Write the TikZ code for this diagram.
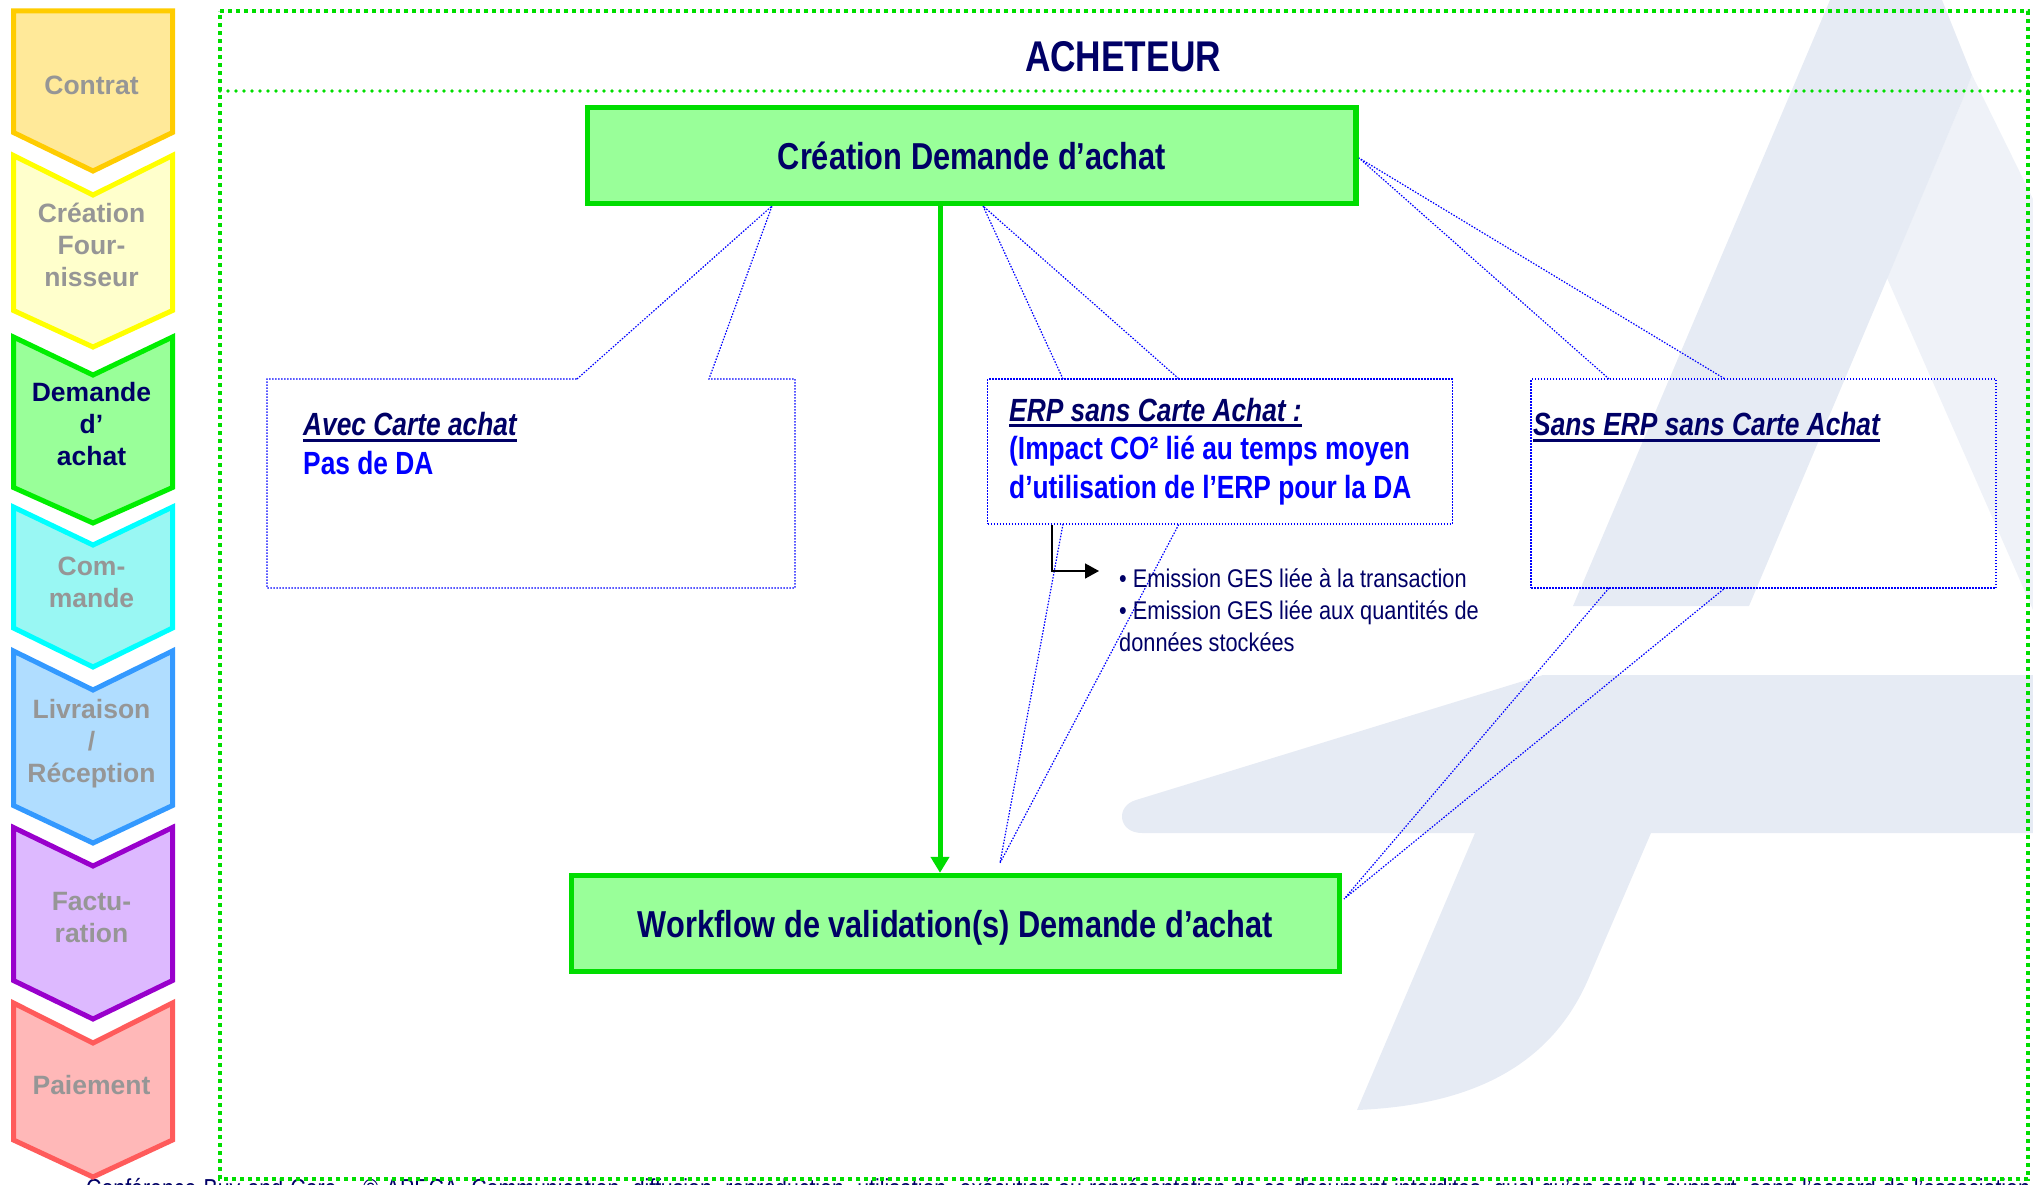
\documentclass[tikz,border=0pt]{standalone}
\usepackage{fontspec}
\usetikzlibrary{arrows.meta}
\setmainfont{Liberation Sans}
\newfontfamily\serre[FakeStretch=0.82]{Liberation Sans}
\newfontfamily\serrefin[FakeStretch=0.85]{Liberation Sans}
\newcommand{\souligne}[1]{\leavevmode\setbox0=\hbox{#1}\rlap{\rule[-6pt]{\wd0}{3pt}}\box0}
\definecolor{marine}{HTML}{000066}
\definecolor{bleuvif}{HTML}{0000FF}
\definecolor{gris}{HTML}{969696}
\definecolor{vertfort}{HTML}{00DD00}
\definecolor{vertpale}{HTML}{99FF99}
\definecolor{logo}{HTML}{E6EBF4}
\definecolor{logoclair}{HTML}{EFF2F8}
\definecolor{bordA}{HTML}{FFCC00}
\definecolor{fondA}{HTML}{FFE999}
\definecolor{bordB}{HTML}{FFFF00}
\definecolor{fondB}{HTML}{FFFFCC}
\definecolor{bordC}{HTML}{00EE00}
\definecolor{bordD}{HTML}{00FFFF}
\definecolor{fondD}{HTML}{99F7F3}
\definecolor{bordE}{HTML}{3399FF}
\definecolor{fondE}{HTML}{B0DDFF}
\definecolor{bordF}{HTML}{9900CC}
\definecolor{fondF}{HTML}{DDB9FF}
\definecolor{bordG}{HTML}{FF5B5B}
\definecolor{fondG}{HTML}{FFB8B8}
\tikzset{
  etape/.style 2 args={draw=#1, fill=#2, line width=5pt, miter limit=10},
  etapetexte/.style={align=center, inner sep=0pt, text=gris, font=\fontsize{26.5}{32}\selectfont\bfseries},
  cadre/.style={draw=vertfort, line width=4pt, dash pattern=on 4pt off 4pt},
  filet/.style={draw=vertfort, line width=3.6pt, line cap=round, dash pattern=on 0pt off 8pt},
  boite/.style={draw=vertfort, fill=vertpale, line width=5.3pt, text depth=0pt, text=marine, font=\serre\fontsize{37.5}{44}\selectfont\bfseries},
  appel/.style={draw=bleuvif, line width=1.2pt, dash pattern=on 1.5pt off 1.5pt},
  appeltexte/.style={align=left, inner sep=0pt, anchor=north west, text=bleuvif, font=\serre\fontsize{32.1}{38.5}\selectfont\bfseries},
  flux/.style={draw=vertfort, line width=5pt, -{Triangle[length=16pt,width=18pt]}},
  renvoi/.style={draw=black, line width=1.6pt, -{Triangle[length=14pt,width=15pt]}},
}
\begin{document}
\begin{tikzpicture}[x=1pt, y=-1pt]
\useasboundingbox (0,0) rectangle (2033,1185);
% logo
\fill[logoclair] (1972,75) -- (2033,199) -- (2033,610) -- (1887,278) -- (1963,99) -- cycle;
\fill[logo] (1830,0) -- (1942,0) -- (1972,75) -- (1963,99) -- (1749,606) -- (1573,606) -- cycle;
\fill[logo] (1136,800) -- (1543,675) -- (2033,675) -- (2033,833) -- (1142,833) .. controls (1118,833) and (1115,806) .. (1136,800) -- cycle;
\fill[logo] (1475,833) -- (1357,1110) .. controls (1480,1105) and (1555,1060) .. (1590,975) -- (1651,833) -- cycle;
% pied de page
\node[anchor=base west, inner sep=0pt, text=marine, font=\serre\fontsize{26}{30}\selectfont] (pied) at (86,1197)
  {\hbox to 1944pt{Conférence Buy and Care – © APECA. Communication, diffusion, reproduction, utilisation, exécution ou représentation de ce document interdites, quel qu’en soit le support, sans l’accord de l’association}};
% etapes
\draw[etape={bordA}{fondA}] (13.5,11) -- (172.5,11) -- (172.5,132.5) -- (93,171) -- (13.5,132.5) -- cycle;
\draw[etape={bordB}{fondB}] (13.5,155.5) -- (93,195) -- (172.5,155.5) -- (172.5,310.5) -- (93,347) -- (13.5,310.5) -- cycle;
\draw[etape={bordC}{vertpale}] (13.5,337) -- (93,375) -- (172.5,337) -- (172.5,487.5) -- (93,523) -- (13.5,487.5) -- cycle;
\draw[etape={bordD}{fondD}] (13.5,507) -- (93,545) -- (172.5,507) -- (172.5,628) -- (93,667) -- (13.5,628) -- cycle;
\draw[etape={bordE}{fondE}] (13.5,651) -- (93,690) -- (172.5,651) -- (172.5,805.5) -- (93,843) -- (13.5,805.5) -- cycle;
\draw[etape={bordF}{fondF}] (13.5,827.5) -- (93,866) -- (172.5,827.5) -- (172.5,980.5) -- (93,1019) -- (13.5,980.5) -- cycle;
\draw[etape={bordG}{fondG}] (13.5,1003) -- (93,1043) -- (172.5,1003) -- (172.5,1140) -- (93,1177) -- (13.5,1140) -- cycle;
\node[etapetexte] (contrat) at (91.5,85) {Contrat};
\node[etapetexte] (fournisseur) at (91.5,245) {Création\\Four-\\nisseur};
\node[etapetexte, text=marine] (demande) at (91.5,424) {Demande\\d’\\achat};
\node[etapetexte] (commande) at (91.5,582) {Com-\\mande};
\node[etapetexte] (livraison) at (91.5,744) {Livraison\\/\\Réception};
\node[etapetexte] (facturation) at (91.5,918) {Factu-\\ration};
\node[etapetexte] (paiement) at (91.5,1085) {Paiement};
% cadre acheteur
\draw[cadre] (220,11) -- (2028,11) -- (2028,1179) -- (220,1179) -- cycle;
\draw[filet] (220,91) -- (2028,91);
\node[inner sep=0pt, text=marine, font=\serre\fontsize{43}{50}\selectfont\bfseries] (acheteur) at (1123,57) {ACHETEUR};
% boites
\node[boite, minimum width=768.5pt, minimum height=96pt] (creation) at (971.75,155.5) {Création Demande d’achat};
\node[boite, minimum width=768pt, minimum height=96pt] (workflow) at (955.5,923.5) {Workflow de validation(s) Demande d’achat};
\coordinate (fluxX) at (940,0);
\draw[flux] (creation.south -| fluxX) -- (workflow.north -| fluxX);
% appels
\coordinate (avecA) at (577,379);
\coordinate (avecB) at (709,379);
\coordinate (avecC) at (772,206);
\draw[appel] (avecA) -- (avecC) -- (avecB) -- (795,379) -- (795,588) -- (267,588) -- (267,379) -- (avecA);
\node[appeltexte] (avec) at (303,412.5) {\textcolor{marine}{\itshape\souligne{Avec Carte achat}}\\Pas de DA};
\node[appel, minimum width=464.5pt, minimum height=145pt] (erp) at (1220,451.5) {};
\node[appeltexte] (erptexte) at (1009,398) {\textcolor{marine}{\itshape\souligne{ERP sans Carte Achat :}}\\(Impact CO² lié au temps moyen\\d’utilisation de l’ERP pour la DA};
\coordinate (erpA) at (1063,379);
\coordinate (erpB) at (1179,379);
\coordinate (erpC) at (983,206);
\coordinate (erpD) at (1063,524);
\coordinate (erpE) at (1179,524);
\coordinate (erpF) at (1000,863);
\draw[appel] (erpA) -- (erpC) -- (erpB);
\draw[appel] (erpD) -- (erpF) -- (erpE);
\node[appel, minimum width=465pt, minimum height=209pt] (sans) at (1763.5,483.5) {};
\node[appeltexte] (sanstexte) at (1533,412.5) {\textcolor{marine}{\itshape\souligne{Sans ERP sans Carte Achat}}};
\coordinate (sansA) at (1609,379);
\coordinate (sansB) at (1725,379);
\coordinate (sansC) at (1359,158);
\coordinate (sansD) at (1609,588);
\coordinate (sansE) at (1725,588);
\coordinate (sansF) at (1344,899);
\draw[appel] (sansA) -- (sansC) -- (sansB);
\draw[appel] (sansD) -- (sansF) -- (sansE);
% emissions
\coordinate (coude) at (1052,571);
\coordinate (coudeFin) at (1099,571);
\draw[renvoi] (erp.south -| coude) -- (coude) -- (coudeFin);
\node[align=left, inner sep=0pt, anchor=north west, text=marine, font=\serrefin\fontsize{25.6}{32}\selectfont] (emissions) at (1119,568)
  {• Emission GES liée à la transaction\\• Emission GES liée aux quantités de\\données stockées};
\end{tikzpicture}
\end{document}
